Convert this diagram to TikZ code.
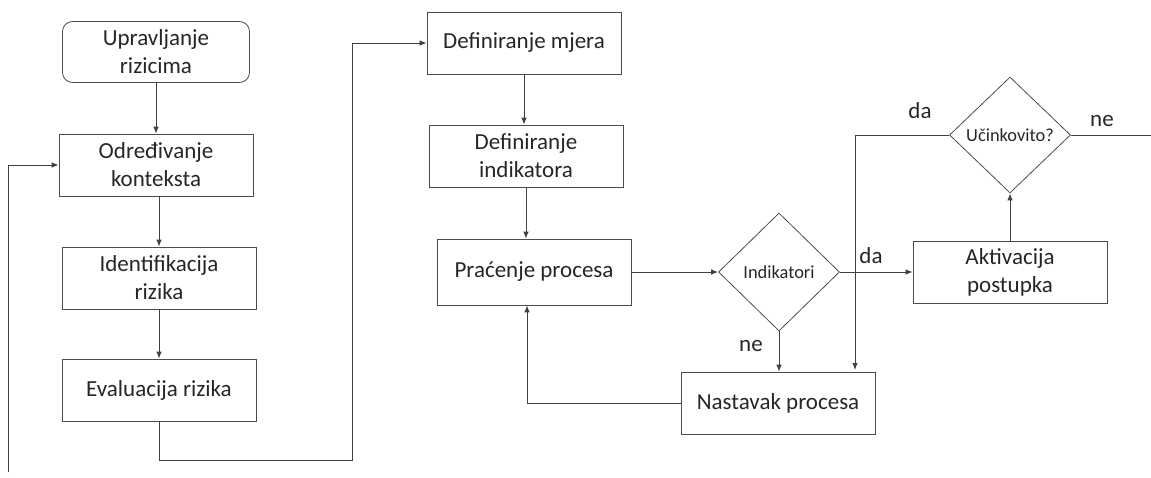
\documentclass[tikz,border=0pt]{standalone}
\usepackage{fontspec}
\setmainfont{Carlito}
\usetikzlibrary{arrows.meta,shapes.geometric}
\tikzset{
  box/.style={draw=black!70, rectangle, minimum width=97pt, minimum height=31pt, align=center, text=black!85, font=\fontsize{11.5}{14}\selectfont},
  rbox/.style={box, rounded corners=5pt, minimum width=93.5pt, minimum height=30.5pt},
  test/.style={draw=black!70, diamond, inner sep=0pt, minimum width=60.5pt, minimum height=59pt, text=black!85, font=\fontsize{9.2}{11}\selectfont},
  lbl/.style={text=black!85, font=\fontsize{11.5}{14}\selectfont},
  line/.style={draw=black!75, line width=0.5pt},
  arr/.style={line, -{Latex[length=3.5pt,width=2.8pt]}}
}
\begin{document}
\begin{tikzpicture}[x=0.5pt,y=-0.5pt]
\useasboundingbox (0,0) rectangle (1151,477);
\node[rbox] (1) at (156,52) {Upravljanje\\rizicima};
\node[box] (2) at (156,165) {Određivanje\\konteksta};
\node[box] (3) at (159,278) {Identifikacija\\rizika};
\node[box] (4) at (159,390) {Evaluacija rizika};
\node[box] (5) at (524,43) {Definiranje mjera};
\node[box] (6) at (526,156) {Definiranje\\indikatora};
\node[box, minimum height=33pt] (7) at (534,272) {Praćenje procesa};
\node[test] (8) at (779,272) {Indikatori};
\node[box] (9) at (1010,272) {Aktivacija\\postupka};
\node[test, minimum height=58pt] (10) at (1010,135) {Učinkovito?};
\node[box] (11) at (778,403) {Nastavak procesa};
\coordinate (in) at (8,472);
\coordinate (out) at (1151,135);

\path[arr] (1) -- (2);
\path[arr] (3.north |- 2.south) -- (3.north);
\path[arr] (3) -- (4);
\path[arr] (in) |- (2.west);
\path[arr] (4.south) -- (159,460) -- (352,460) |- (5.west);

\path[arr] (5.south) -- (5.south |- 6.north);
\path[arr] (6.south) -- (6.south |- 7.north);
\path[arr] (7.east) -- (8.west);
\path[arr] (8.east) -- (9.west);
\path[arr] (8.south) -- (8.south |- 11.north);
\path[arr] (9.north) -- (10.south);
\path[line] (10.east) -- (out);
\path[arr] (10.west) -- (855,135) -- (855,370);
\path[arr] (11.west) -| ([xshift=-3.5pt]7.south);

\node[lbl] (da1) at (871,256) {da};
\node[lbl] (ne1) at (751,346) {ne};
\node[lbl] (da2) at (920,111) {da};
\node[lbl] (ne2) at (1102,121) {ne};
\end{tikzpicture}
\end{document}
